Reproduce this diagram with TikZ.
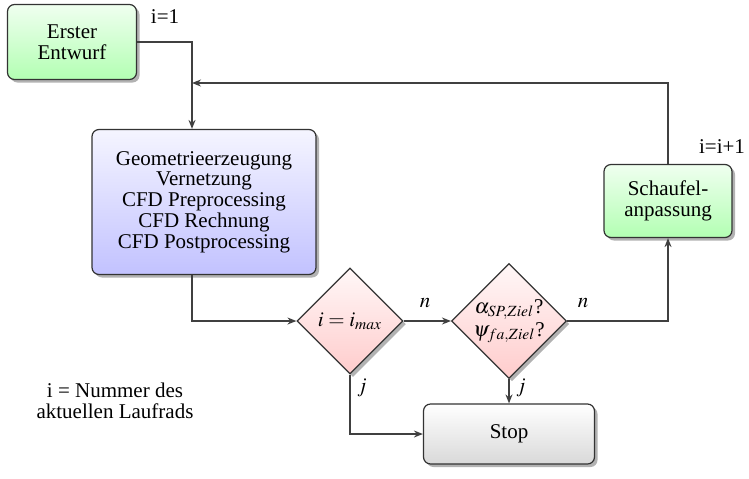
\documentclass[tikz,border=0pt]{standalone}
\usepackage{mathptmx}
\usepackage{fontspec}
\setmainfont{Liberation Serif}
\usetikzlibrary{shapes.geometric,shadows,arrows.meta}

\begin{document}
\begin{tikzpicture}[x=0.5pt,y=-0.5pt,
   every node/.style={font=\fontsize{10.5}{10.4}\selectfont},
   box/.style={draw=black!80,line width=0.6pt,rounded corners=3.5pt,
     drop shadow={shadow xshift=1.5pt,shadow yshift=-1.5pt,fill=black!30,opacity=1},
     align=center,inner sep=0pt},
   greenbox/.style={box,top color=green!6,bottom color=green!30},
   bluebox/.style={box,top color=blue!4,bottom color=blue!24},
   graybox/.style={box,top color=white,bottom color=black!15},
   decision/.style={diamond,aspect=1,draw=black!80,line width=0.6pt,
     drop shadow={shadow xshift=1.5pt,shadow yshift=-1.5pt,fill=black!30,opacity=1},
     top color=red!3,bottom color=red!20,align=center,inner sep=0pt},
   line/.style={draw=black!75,line width=0.7pt},
   arrow/.style={line,-{Stealth[length=4.5pt,width=3.5pt]}}]
   \useasboundingbox (0,0) rectangle (749,478);

   \path (72,42) node[greenbox,minimum width=64.5pt,minimum height=37.5pt] (start)
     {Erster\\Entwurf};
   \path (204,202) node[bluebox,minimum width=112pt,minimum height=72.5pt] (geo)
     {Geometrieerzeugung\\Vernetzung\\CFD Preprocessing\\CFD Rechnung\\CFD Postprocessing};
   \path (350,321) node[decision,minimum size=53pt] (imax) {$i=i_{max}$};
   \path (509,321) node[decision,minimum size=56pt] (ziel)
     {$\alpha_{SP,Ziel}$?\\[1pt]$\psi_{fa,Ziel}$?};
   \path (668,201) node[greenbox,minimum width=64pt,minimum height=36.5pt] (adapt)
     {Schaufel-\\anpassung};
   \path (509,434) node[graybox,minimum width=85.5pt,minimum height=30pt] (stop) {Stop};

   \coordinate (loop) at (192,83);

   % connectors
   \draw[line] (start.east) -| (loop);
   \draw[arrow] (loop) -- (loop |- geo.north);
   \draw[arrow] (adapt.north) |- (loop);
   \draw[arrow] (loop |- geo.south) |- (imax.west);
   \draw[arrow] (imax.east) -- (ziel.west);
   \draw[arrow] (ziel.east) -| (adapt.south);
   \draw[arrow] (imax.south) |- (stop.west);
   \draw[arrow] (ziel.south) -- (stop.north);

   % labels
   \path (165,17) node (first) {i=1};
   \path (722,147) node (next) {i=i+1};
   \path (425,303) node (n1) {$n$};
   \path (583,303) node (n2) {$n$};
   \path (362,388) node (j1) {$j$};
   \path (521,388) node (j2) {$j$};
   \path (115,401) node[align=center] (note) {i = Nummer des\\aktuellen Laufrads};
\end{tikzpicture}
\end{document}
